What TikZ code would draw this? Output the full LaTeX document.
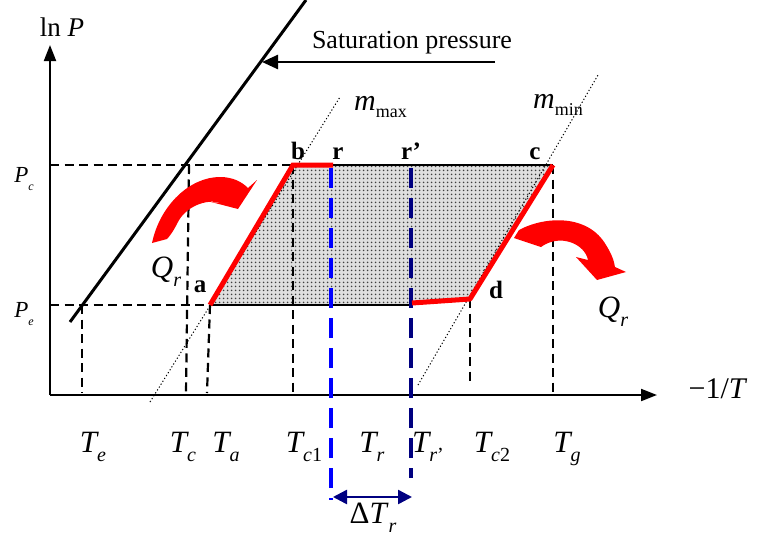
\documentclass[tikz,border=0pt]{standalone}
\usepackage{fontspec}
\setmainfont{Liberation Serif}
\usetikzlibrary{arrows.meta,patterns.meta}
\newcommand\fsz[1]{\fontsize{#1}{#1}\selectfont}
\newcommand\Tsub[2]{\textit{#1}\raisebox{-0.32em}{\fsz{20}#2}}
\definecolor{navyb}{RGB}{0,0,128}
\begin{document}
\begin{tikzpicture}[x=1pt,y=-1pt,
  axis/.style={line width=2pt,-{Triangle[length=16pt,width=12pt]}},
  guide/.style={line width=2.2pt,dash pattern=on 9pt off 5.5pt},
  cyc/.style={red,line width=5pt},
  mline/.style={line width=1pt,dash pattern=on 1.2pt off 2.2pt},
  lab/.style={font=\fsz{31}\itshape,anchor=base,inner sep=0pt},
  ptl/.style={font=\fsz{25}\bfseries,anchor=base,inner sep=0pt},
  redarrow/.style={fill=red,draw=none}]
\useasboundingbox (0,0) rectangle (758,538);
% key points
\coordinate (O) at (50,395);
\coordinate (ytop) at (50,45);
\coordinate (xend) at (657,395);
\coordinate (a) at (210,305);
\coordinate (b) at (293,165);
\coordinate (c) at (553,165);
\coordinate (d) at (470,299);
\coordinate (r) at (333,165);
\coordinate (rp) at (412,165);
\coordinate (rpd) at (412,303);
\coordinate (rpb) at (412,305);
% shaded region
\fill[gray!25] (a) -- (b) -- (c) -- (d) -- (rpd) -- (rpb) -- cycle;
\fill[pattern={Dots[distance=4pt,radius=1.1pt]},pattern color=black!75] (a) -- (b) -- (c) -- (d) -- (rpd) -- (rpb) -- cycle;
\draw[line width=2pt] (b) -- (c);
\draw[line width=2pt] (a) -- (rpb);
% dotted m lines
\coordinate (m1a) at (150,402); \coordinate (m1b) at (340,97);
\coordinate (m2a) at (418,385); \coordinate (m2b) at (598,75);
\draw[mline] (m1a) -- (m1b);
\draw[mline] (m2a) -- (m2b);
% guides
\coordinate (pc0) at (50,165); \coordinate (pe0) at (50,305);
\draw[guide] (pc0) -- (b);
\draw[guide] (pe0) -- (a);
\coordinate (te1) at (82,305); \coordinate (te2) at (82,393);
\coordinate (tc1) at (189,165); \coordinate (tc2) at (186,393);
\coordinate (ta2) at (207,393);
\coordinate (tb2) at (293,393);
\coordinate (td2) at (470,385);
\coordinate (tg2) at (553,393);
\draw[guide] (te1) -- (te2);
\draw[guide] (tc1) -- (tc2);
\draw[guide] (a) -- (ta2);
\draw[guide] (b) -- (tb2);
\draw[guide] (d) -- (td2);
\draw[guide] (c) -- (tg2);
% axes
\draw[axis] (O) -- (ytop);
\draw[axis] (O) -- (xend);
% saturation line
\coordinate (s1) at (70,322); \coordinate (s2) at (306,0);
\draw[line width=3pt] (s1) -- (s2);
\coordinate (sp1) at (495,62); \coordinate (sp2) at (262,62);
\draw[line width=2.5pt,-{Triangle[length=16pt,width=14pt]}] (sp1) -- (sp2);
\node[font=\fsz{26},anchor=base,inner sep=0pt] (satlbl) at (412,48) {Saturation pressure};
% blue dashed
\coordinate (rb) at (331,500); \coordinate (rpbot) at (411,478);
\draw[blue,line width=4pt,dash pattern=on 20pt off 10pt] (331,168) -- (rb);
\draw[navyb,line width=4pt,dash pattern=on 20pt off 10pt] (411,168) -- (rpbot);
\coordinate (dl) at (333,497); \coordinate (dr) at (412,497);
\draw[navyb,line width=2.5pt,{Triangle[length=14pt,width=14pt]}-{Triangle[length=14pt,width=14pt]}] (dl) -- (dr);
% red cycle
\draw[cyc] (a) -- (b) -- (r);
\draw[cyc,line join=round] (rpd) -- (d) -- (c);
% red curved arrows
\fill[redarrow] (152,243) .. controls (160,205) and (190,177) .. (220,177)
  .. controls (233,177) and (242,182) .. (248,188) -- (257,180) -- (238,209) -- (211,202) -- (221,203)
  .. controls (205,198) and (185,208) .. (178,222) .. controls (174,230) and (170,236) .. (167,239) -- cycle;
\fill[redarrow] (514,238) -- (519,230) .. controls (545,216) and (588,214) .. (606,245)
  .. controls (611,253) and (614,260) .. (615,267) -- (626,272) -- (597,280) -- (576,257) -- (588,260)
  .. controls (585,244) and (560,233) .. (541,247) -- cycle;
% labels
\node[font=\fsz{27},anchor=base,inner sep=0pt] (lnP) at (62,36) {ln \textit{P}};
\node[font=\fsz{30},anchor=base,inner sep=0pt] (xl) at (718,398) {−1/\textit{T}};
\node[anchor=base,inner sep=0pt] (Pc) at (24,182) {\fsz{23}\textit{P}\raisebox{-0.35em}{\fsz{12}\textit{c}}};
\node[anchor=base,inner sep=0pt] (Pe) at (24,317) {\fsz{23}\textit{P}\raisebox{-0.35em}{\fsz{12}\textit{e}}};
\node[anchor=base west,inner sep=0pt] (mmax) at (354,110) {\fsz{30}\textit{m}\raisebox{-0.25em}{\fsz{18}max}};
\node[anchor=base west,inner sep=0pt] (mmin) at (533,108) {\fsz{30}\textit{m}\raisebox{-0.25em}{\fsz{18}min}};
\node[ptl] (lb) at (298,159) {b};
\node[ptl] (lr) at (338,159) {r};
\node[ptl] (lrp) at (411,159) {r’};
\node[ptl] (lc) at (535,159) {c};
\node[ptl] (la) at (200,292) {a};
\node[ptl] (ld) at (496,298) {d};
\node[lab] (Q1) at (166,277) {\Tsub{Q}{\textit{r}}};
\node[lab] (Q2) at (613,317) {\Tsub{Q}{\textit{r}}};
\node[lab] (Te) at (93,452) {\Tsub{T}{\textit{e}}};
\node[lab] (Tc) at (183,452) {\Tsub{T}{\textit{c}}};
\node[lab] (Ta) at (226,452) {\Tsub{T}{\textit{a}}};
\node[lab] (Tc1) at (304,452) {\Tsub{T}{\textit{c}\upshape1}};
\node[lab] (Tr) at (372,452) {\Tsub{T}{\textit{r}}};
\node[lab] (Trp) at (428,452) {\Tsub{T}{\textit{r}\upshape'}};
\node[lab] (Tc2) at (492,452) {\Tsub{T}{\textit{c}\upshape2}};
\node[lab] (Tg) at (567,452) {\Tsub{T}{\textit{g}}};
\node[anchor=base,inner sep=0pt,font=\fsz{31}] (dT) at (373,523) {Δ\Tsub{T}{\textit{r}}};
\end{tikzpicture}
\end{document}
